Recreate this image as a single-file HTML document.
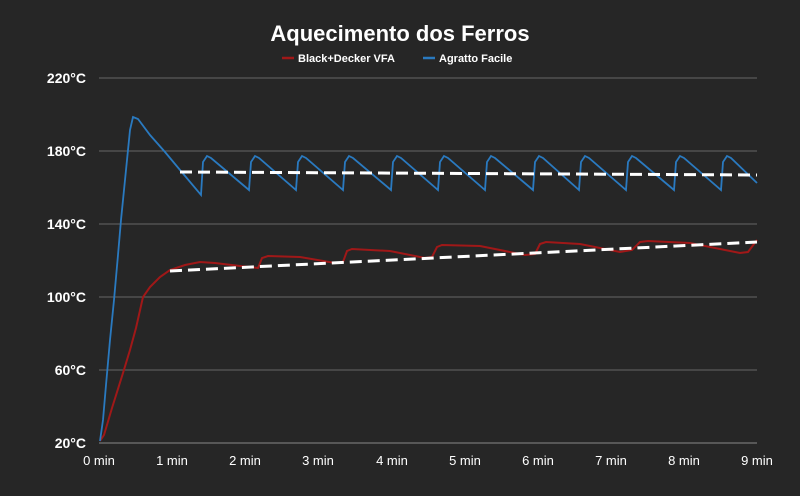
<!DOCTYPE html>
<html><head><meta charset="utf-8"><style>
body{margin:0;background:#262626;}
svg{display:block;font-family:"Liberation Sans",sans-serif;}
</style></head><body>
<svg id="s" width="800" height="496" viewBox="0 0 800 496">
<rect width="800" height="496" fill="#262626"/>
<text x="400" y="41" text-anchor="middle" fill="#fff" font-size="22" font-weight="bold">Aquecimento dos Ferros</text>
<line x1="282" y1="58" x2="294" y2="58" stroke="#a01818" stroke-width="2.5"/>
<text x="298" y="62" fill="#fff" font-size="11" font-weight="bold">Black+Decker VFA</text>
<line x1="423" y1="58" x2="435" y2="58" stroke="#2a7ac0" stroke-width="2.5"/>
<text x="439" y="62" fill="#fff" font-size="11" font-weight="bold">Agratto Facile</text>
<g stroke="#666" stroke-width="1">
<line x1="99" y1="78" x2="757" y2="78"/><line x1="99" y1="151" x2="757" y2="151"/>
<line x1="99" y1="224" x2="757" y2="224"/><line x1="99" y1="297" x2="757" y2="297"/>
<line x1="99" y1="370" x2="757" y2="370"/><line x1="99" y1="443" x2="757" y2="443" stroke="#888"/>
</g>
<g fill="#fff" font-size="14" font-weight="bold" text-anchor="end">
<text x="86" y="83">220°C</text><text x="86" y="156">180°C</text><text x="86" y="229">140°C</text>
<text x="86" y="302">100°C</text><text x="86" y="375">60°C</text><text x="86" y="448">20°C</text>
</g>
<g fill="#fff" font-size="13" text-anchor="middle">
<text x="99" y="465">0 min</text><text x="172" y="465">1 min</text><text x="245" y="465">2 min</text>
<text x="318" y="465">3 min</text><text x="392" y="465">4 min</text><text x="465" y="465">5 min</text>
<text x="538" y="465">6 min</text><text x="611" y="465">7 min</text><text x="684" y="465">8 min</text>
<text x="757" y="465">9 min</text>
</g>
<polyline id="red" fill="none" stroke="#a01818" stroke-width="2" points=""/>
<polyline id="blue" fill="none" stroke="#2a7ac0" stroke-width="1.8" points=""/>
<line x1="180" y1="172" x2="757" y2="175" stroke="#fff" stroke-width="3" stroke-dasharray="12,6"/>
<line x1="170" y1="271" x2="757" y2="242" stroke="#fff" stroke-width="3" stroke-dasharray="12,6"/>
</svg>
<script>
var b=[[100,441],[103,420],[106,385],[110,340],[114,300],[118,255],[121,220],[124,190],[127,160],[130,130],[133,117],[138,119],[150,135],[165,152],[180,170],[201,195]];
var pk=[207,255,302,349,397,444,491,539,585,632,680,727];
for(var i=0;i<pk.length;i++){b.push([pk[i]-4,162]);b.push([pk[i],156]);b.push([pk[i]+4,158]);
 var nx=i+1<pk.length?pk[i+1]-6:757;var ny=i+1<pk.length?190:183;b.push([nx,ny]);}
var r=[[100,441],[104,435],[112,408],[123,373],[130,350],[136,328],[143,297],[150,287],[160,277],[170,270],[185,265],[200,262],[215,263],[240,266],[258,268],[262,258],[268,256],[300,257],[335,263],[343,262],[347,251],[352,249],[390,251],[425,258],[432,257],[437,247],[442,245],[480,246],[525,255],[535,254],[540,244],[546,242],[580,244],[620,252],[632,250],[640,242],[648,241],[690,243],[740,253],[748,252],[757,240]];
function s(a){return a.map(function(p){return p[0]+","+p[1]}).join(" ")}
document.getElementById("blue").setAttribute("points",s(b));
document.getElementById("red").setAttribute("points",s(r));
</script>
</body></html>
